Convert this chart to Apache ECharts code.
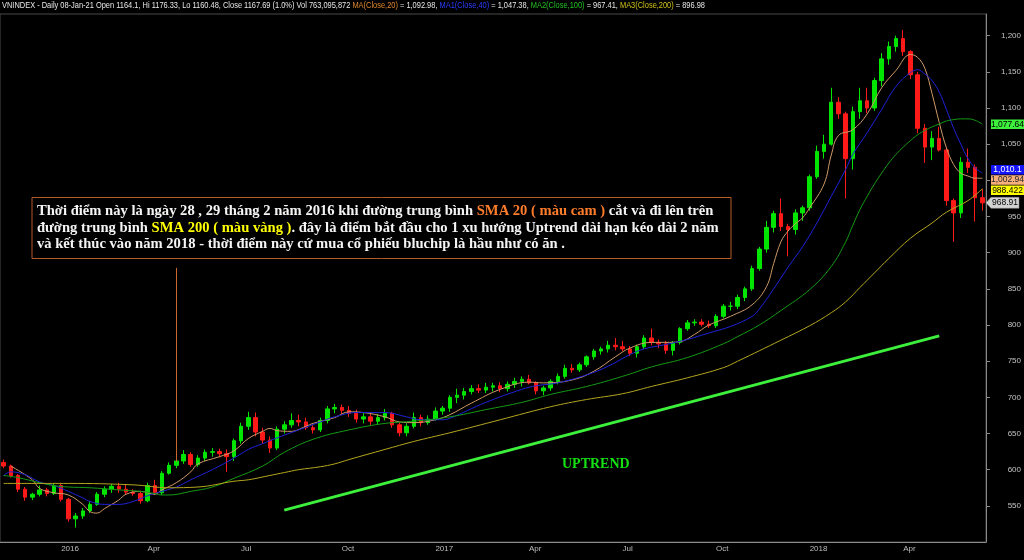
<!DOCTYPE html>
<html><head><meta charset="utf-8">
<script src="https://cdn.jsdelivr.net/npm/echarts@6/dist/echarts.min.js"></script>
<style>html,body{margin:0;padding:0;background:#000;}#c{width:1024px;height:560px;}</style>
</head><body><div id="c"></div>
<script>
// Weekly candles (week starting Monday)
const weeks = ['2015-11-09','2015-11-16','2015-11-23','2015-11-30','2015-12-07','2015-12-14','2015-12-21','2015-12-28',
'2016-01-04','2016-01-11','2016-01-18','2016-01-25','2016-02-01','2016-02-08','2016-02-15','2016-02-22','2016-02-29','2016-03-07','2016-03-14','2016-03-21','2016-03-28','2016-04-04','2016-04-11','2016-04-18','2016-04-25','2016-05-02','2016-05-09','2016-05-16','2016-05-23','2016-05-30','2016-06-06','2016-06-13','2016-06-20','2016-06-27','2016-07-04','2016-07-11','2016-07-18','2016-07-25','2016-08-01','2016-08-08','2016-08-15','2016-08-22','2016-08-29','2016-09-05','2016-09-12','2016-09-19','2016-09-26','2016-10-03','2016-10-10','2016-10-17','2016-10-24','2016-10-31','2016-11-07','2016-11-14','2016-11-21','2016-11-28','2016-12-05','2016-12-12','2016-12-19','2016-12-26',
'2017-01-02','2017-01-09','2017-01-16','2017-01-23','2017-01-30','2017-02-06','2017-02-13','2017-02-20','2017-02-27','2017-03-06','2017-03-13','2017-03-20','2017-03-27','2017-04-03','2017-04-10','2017-04-17','2017-04-24','2017-05-01','2017-05-08','2017-05-15','2017-05-22','2017-05-29','2017-06-05','2017-06-12','2017-06-19','2017-06-26','2017-07-03','2017-07-10','2017-07-17','2017-07-24','2017-07-31','2017-08-07','2017-08-14','2017-08-21','2017-08-28','2017-09-04','2017-09-11','2017-09-18','2017-09-25','2017-10-02','2017-10-09','2017-10-16','2017-10-23','2017-10-30','2017-11-06','2017-11-13','2017-11-20','2017-11-27','2017-12-04','2017-12-11','2017-12-18','2017-12-25',
'2018-01-01','2018-01-08','2018-01-15','2018-01-22','2018-01-29','2018-02-05','2018-02-12','2018-02-19','2018-02-26','2018-03-05','2018-03-12','2018-03-19','2018-03-26','2018-04-02','2018-04-09','2018-04-16','2018-04-23','2018-04-30','2018-05-07','2018-05-14','2018-05-21','2018-05-28','2018-06-04','2018-06-11','2018-06-18'];

const opens = [610,605,592,573,562,566,572,567,578,559,532,536,543,552,566,573,577,573,569,567,557,578,568,595,606,612,621,607,616,624,625,622,618,640,660,672,652,641,630,656,662,668,666,658,655,668,684,686,682,678,670,673,667,672,678,662,651,660,672,665,670,681,685,700,703,708,712,710,714,716,712,718,722,725,720,709,713,722,729,740,738,745,756,764,767,772,770,767,761,770,782,776,774,765,776,795,803,804,801,799,812,826,826,838,850,878,905,935,954,936,932,955,962,1005,1040,1050,1108,1092,1030,1095,1110,1100,1138,1168,1185,1196,1178,1146,1072,1046,1058,1042,972,955,1025,1018,976];
const highs = [614,607,594,576,568,578,575,581,580,561,540,547,556,569,577,580,582,579,573,570,582,586,598,610,617,627,624,620,628,630,629,628,643,665,680,679,658,646,660,667,678,676,672,662,672,688,691,690,688,683,679,679,677,684,680,665,664,679,676,675,686,688,703,712,713,717,718,720,720,721,722,727,729,731,722,716,725,733,745,746,748,758,767,770,778,782,778,771,773,786,795,780,778,778,797,807,808,808,806,815,829,832,842,853,882,908,944,958,975,940,960,965,1008,1048,1063,1128,1115,1095,1102,1128,1128,1142,1176,1192,1200,1208,1180,1150,1078,1068,1074,1045,975,1032,1044,1022,988];
const lows = [602,589,569,557,558,563,563,565,556,528,520,532,540,550,562,568,568,566,564,553,555,565,565,593,602,608,604,604,612,618,617,597,612,636,655,646,636,623,627,650,658,660,655,650,652,664,678,676,673,665,664,662,662,668,658,646,646,657,660,662,668,676,680,692,697,704,706,706,708,707,708,713,715,718,704,703,709,718,726,734,735,742,752,759,762,765,764,757,755,767,772,768,760,758,773,792,799,798,796,796,809,820,822,833,847,875,900,928,930,895,925,944,958,1002,1030,1048,1085,975,1015,1085,1093,1096,1130,1160,1178,1172,1140,1065,1024,1028,1040,965,915,948,1010,943,958];
const closes = [605,592,573,562,566,572,567,578,559,532,536,543,552,566,573,577,573,569,567,557,578,568,595,606,612,621,607,616,624,625,622,618,640,660,672,652,641,630,656,662,668,666,658,655,668,684,686,682,678,670,673,667,672,678,662,651,660,672,665,670,681,685,700,703,708,712,710,714,716,712,718,722,725,720,709,713,722,729,740,738,745,756,764,767,772,770,767,761,770,782,776,774,765,776,795,803,804,801,799,812,826,826,838,850,878,905,935,954,936,932,955,962,1005,1040,1050,1108,1092,1030,1095,1110,1100,1138,1168,1185,1196,1178,1146,1072,1046,1058,1042,972,955,1025,1018,976,968.91];

// Moving averages: [week index, value]
const ma20 = [[1,605],[4,586],[5,574],[7,568],[9,565],[11,552],[12,542],[13,540],[14,546],[16,558],[17,566],[19,570],[21,566],[22,572],[24,582],[26,597],[27,608],[30,618],[32,626],[34,643],[36,653],[37,657],[38,654],[40,653],[42,660],[43,664],[46,672],[48,680],[50,679],[53,673],[55,666],[57,665],[60,669],[62,676],[65,692],[69,711],[73,721],[75,720],[79,724],[82,736],[85,756],[87,768],[90,776],[92,776],[94,777],[96,787],[98,800],[101,812],[104,828],[106,853],[107,885],[108,915],[109,930],[110,940],[111,948],[112,962],[114,995],[115,1035],[116,1062],[118,1070],[120,1092],[122,1128],[124,1152],[126,1174],[127,1170],[128,1155],[129,1120],[130,1080],[131,1045],[132,1022],[133,1010],[134,1006],[135,1003],[136,1002.94]];
const ma40 = [[0,592],[1,597],[3,593],[5,583],[7,578],[9,570],[11,561],[12,556],[14,552],[16,552],[18,556],[20,564],[22,570],[24,576],[26,586],[29,600],[32,616],[34,628],[36,636],[38,644],[41,655],[44,666],[46,673],[49,679],[53,679],[56,673],[58,669],[61,669],[62,671],[67,693],[72,711],[74,716],[77,720],[81,731],[84,743],[87,759],[89,767],[92,773],[95,780],[98,789],[101,798],[104,812],[105,822],[107,850],[109,880],[111,908],[113,941],[115,978],[117,1015],[118,1036],[120,1066],[122,1098],[124,1130],[126,1149],[127,1153],[128,1147],[129,1138],[130,1122],[131,1098],[132,1072],[133,1050],[134,1030],[135,1017],[136,1010.1]];
const ma100 = [[0,592],[2,589],[5,582],[7,578],[9,576],[12,575],[16,572],[19,570],[21,567],[22,565],[23,565],[26,570],[29,576],[32,588],[36,605],[39,624],[43,642],[48,655],[53,664],[57,667],[62,673],[67,683],[72,693],[76,704],[81,715],[86,729],[90,742],[95,755],[100,774],[102,784],[105,800],[108,820],[112,849],[115,881],[117,915],[118,938],[119,960],[120,978],[121,995],[122,1010],[123,1024],[124,1036],[125,1046],[126,1055],[127,1063],[128,1069],[129,1074],[130,1078],[131,1082],[132,1084],[133,1085],[134,1085],[135,1083],[136,1077.64]];
const ma200 = [[0,581],[9,581],[18,579],[23,575],[27,576],[32,584],[34,586],[37,592],[39,596],[41,600],[44,604],[46,608],[48,614],[53,628],[57,639],[62,651],[69,669],[76,687],[81,697],[86,705],[90,715],[95,727],[100,741],[102,750],[108,779],[112,799],[115,817],[117,832],[119,852],[121,872],[123,892],[126,920],[129,941],[131,956],[134,972],[136,988.422]];

// x axis tick labels (week containing first trading day of each quarter)
const tickWeeks = ['2016-01-04','2016-03-28','2016-06-27','2016-10-03','2017-01-02','2017-04-03','2017-07-03','2017-10-02','2018-01-01','2018-04-02'];
const tickLabels = ['2016','Apr','Jul','Oct','2017','Apr','Jul','Oct','2018','Apr'];

// annotations: green trend line and orange marker line [week index, value]
const trendLine = [[39,544],[130,785]];
const markerLine = [[24,611],[24,879]];

// header pieces: [text, colour]
const headerParts = [
  ['VNINDEX - Daily 08-Jan-21 Open 1164.1, Hi 1176.33, Lo 1160.48, Close 1167.69 (1.0%) Vol 763,095,872 ', 'w'],
  ['MA(Close,20)', 'o'], [' = 1,092.98, ', 'w'],
  ['MA1(Close,40)', 'b'], [' = 1,047.38, ', 'w'],
  ['MA2(Close,100)', 'g'], [' = 967.41, ', 'w'],
  ['MA3(Close,200)', 'y'], [' = 896.98', 'w']
];
const header = headerParts.map(p => '{' + p[1] + '|' + p[0] + '}').join('');
const headerPlain = headerParts.map(p => p[0]).join('');

const candles = opens.map((o, i) => [o, closes[i], lows[i], highs[i]]);
const fmt = v => v.toLocaleString('en-US', {maximumFractionDigits: 3});
const isTick = (idx, val) => tickWeeks.indexOf(val) >= 0;

const chart = echarts.init(document.getElementById('c'));
const option = {
  backgroundColor: '#000',
  animation: false,
  grid: { left: 0, right: 37, top: 14, bottom: 18, show: true, borderColor: '#4a4a4a', borderWidth: 1, backgroundColor: 'transparent' },
  xAxis: {
    type: 'category', data: weeks, boundaryGap: true,
    axisLine: { lineStyle: { color: '#8a8a8a' } },
    axisTick: { interval: isTick, length: 4, lineStyle: { color: '#8a8a8a' } },
    axisLabel: { interval: isTick, formatter: v => tickLabels[tickWeeks.indexOf(v)], align: 'left', color: '#bdbdbd', fontSize: 8, fontFamily: 'Liberation Sans', margin: 3 },
    splitLine: { show: false }
  },
  yAxis: {
    type: 'value', position: 'right', min: 500, max: 1230, interval: 50, scale: true,
    axisLine: { show: true, lineStyle: { color: '#8a8a8a' } },
    axisTick: { show: true, length: 4, lineStyle: { color: '#8a8a8a' } },
    axisLabel: { showMinLabel: false, showMaxLabel: false, formatter: v => fmt(v), align: 'right', margin: 35, color: '#c4c4c4', fontSize: 8, fontFamily: 'Liberation Sans' },
    splitLine: { show: false }
  },
  series: [
    { type: 'candlestick', data: candles, barWidth: '55%',
      itemStyle: { color: '#00e600', color0: '#ff1a1a', borderColor: '#00e600', borderColor0: '#ff1a1a', borderWidth: 1 },
      markLine: { silent: true, symbol: 'none', label: { show: false },
        data: [
          [ { coord: trendLine[0], lineStyle: { color: '#3cf03c', width: 3, type: 'solid' } }, { coord: trendLine[1] } ],
          [ { coord: markerLine[0], lineStyle: { color: '#c8682c', width: 1, type: 'solid' } }, { coord: markerLine[1] } ]
        ] }
    },
    { type: 'line', data: ma20, smooth: 0.4, showSymbol: false, lineStyle: { color: '#cf9a68', width: 1 } },
    { type: 'line', data: ma40, smooth: 0.4, showSymbol: false, lineStyle: { color: '#1e22d8', width: 1 } },
    { type: 'line', data: ma100, smooth: 0.4, showSymbol: false, lineStyle: { color: '#149a14', width: 1 } },
    { type: 'line', data: ma200, smooth: 0.4, showSymbol: false, lineStyle: { color: '#b5a61e', width: 1 } }
  ]
};
chart.setOption(option);

// header: condensed horizontally so the whole line spans like the reference
const hFont = '9px "Liberation Sans"';
const mctx = document.createElement('canvas').getContext('2d');
mctx.font = hFont;
const hScale = 703 / mctx.measureText(headerPlain).width;
const hs = c => ({ fill: c, font: hFont });
const richHeader = { w: hs('#e6e6e6'), o: hs('#e0862e'), b: hs('#2a3cff'), g: hs('#22c022'), y: hs('#cfc21a') };

// annotation text box, UPTREND label and last-value tags
const boxText = '{w|Thời điểm này là ngày 28 , 29 tháng 2 năm 2016 khi đường trung bình }{o|SMA 20 ( màu cam )}{w| cắt và đi lên trên}\n{w|đường trung bình }{y|SMA 200 ( màu vàng )}{w|. đây là điểm bắt đầu cho 1 xu hướng Uptrend dài hạn kéo dài 2 năm}\n{w|và kết thúc vào năm 2018 - thời điểm này cứ mua cổ phiếu bluchip là hầu như có ăn .}';
const bFont = 'bold 14.6px "Liberation Serif"';
const richBox = {
  w: { fill: '#f4f4f4', font: bFont, lineHeight: 16.5 },
  o: { fill: '#ff7d2a', font: bFont, lineHeight: 16.5 },
  y: { fill: '#ffff00', font: bFont, lineHeight: 16.5 }
};
const tags = [
  { v: ma100[ma100.length - 1][1], bg: '#3cf03c', fg: '#000' },
  { v: ma40[ma40.length - 1][1], bg: '#1414ff', fg: '#fff' },
  { v: ma20[ma20.length - 1][1], bg: '#f7b07c', fg: '#222' },
  { v: ma200[ma200.length - 1][1], bg: '#ffff00', fg: '#000' },
  { v: closes[closes.length - 1], bg: '#d2d2d2', fg: '#000', arrow: true }
];
tags.forEach(t => { t.y = chart.convertToPixel({ yAxisIndex: 0 }, t.v); });
tags.sort((a, b) => a.y - b.y);
const gap = 10.3;
for (let k = 0; k < 20; k++) {
  for (let j = 0; j < tags.length - 1; j++) {
    const d = tags[j + 1].y - tags[j].y;
    if (d < gap) { const s = (gap - d) / 2; tags[j].y -= s; tags[j + 1].y += s; }
  }
}
const axisX = chart.convertToPixel({ xAxisIndex: 0 }, weeks.length - 1) + 3.6;
const g = [
  { type: 'text', x: 2, y: 1.5, scaleX: hScale, style: { text: header, rich: richHeader }, z: 120 },
  { type: 'rect', shape: { x: 32, y: 197.5, width: 699, height: 61 }, style: { fill: '#000', stroke: '#b45c28', lineWidth: 1 }, z: 100 },
  { type: 'text', x: 37, y: 203, style: { text: boxText, rich: richBox }, z: 101 },
  { type: 'text', x: 562, y: 457, style: { text: 'UPTREND', fill: '#14e014', font: 'bold 14px "Liberation Serif"' }, z: 101 }
];
tags.forEach(t => {
  const y = t.y;
  if (t.arrow) {
    g.push({ type: 'polygon', shape: { points: [[axisX, y], [axisX + 5, y - 5.5], [axisX + 33, y - 5.5], [axisX + 33, y + 5.5], [axisX + 5, y + 5.5]] }, style: { fill: t.bg, stroke: '#888', lineWidth: 0.5 }, z: 110 });
    g.push({ type: 'text', x: axisX + 19, y: y, style: { text: fmt(t.v), fill: t.fg, font: '8.5px "Liberation Sans"', align: 'center', verticalAlign: 'middle' }, z: 111 });
  } else {
    g.push({ type: 'rect', shape: { x: axisX + 5, y: y - 4.8, width: 33, height: 9.6 }, style: { fill: t.bg }, z: 110 });
    g.push({ type: 'text', x: axisX + 21.5, y: y, style: { text: fmt(t.v), fill: t.fg, font: '8.5px "Liberation Sans"', align: 'center', verticalAlign: 'middle' }, z: 111 });
  }
});
chart.setOption({ graphic: g });
</script></body></html>
